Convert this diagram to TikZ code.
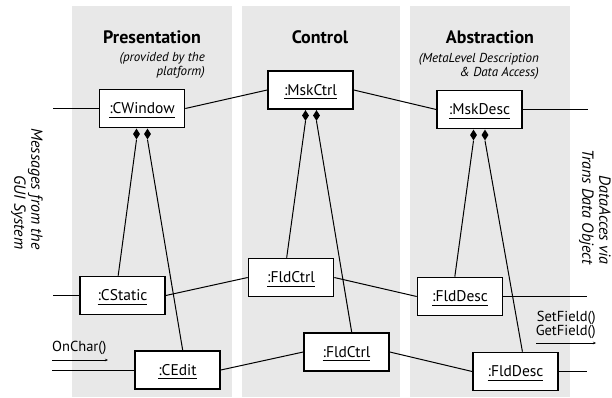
\documentclass[tikz,border=0pt]{standalone}
\usepackage{fontspec}
\setmainfont{PT Sans}
\usetikzlibrary{shapes.geometric,arrows.meta,calc}
% underlined object name with a heavier, lower rule
\newcommand\objlabel[1]{\setbox0\hbox{#1}\leavevmode\rlap{\rule[-4pt]{\wd0}{1pt}}\box0}
\begin{document}
\begin{tikzpicture}[x=1pt,y=-1pt,
  panel/.style={fill=black!9, draw=none},
  obj/.style={draw, line width=1.6pt, fill=white, minimum width=85pt, minimum height=38pt,
    inner sep=0pt, text height=10.5pt, text depth=0pt, font=\fontsize{15.5}{17}\selectfont},
  link/.style={line width=1pt},
  comp/.style={diamond, fill=black, draw=none, inner sep=0pt, minimum width=7pt,
    minimum height=11pt, anchor=north},
  title/.style={font=\bfseries\fontsize{18}{20}\selectfont, inner sep=0pt},
  note/.style={font=\itshape\fontsize{13}{14}\selectfont, align=right, anchor=east, inner sep=0pt},
  side/.style={font=\itshape\fontsize{16}{17}\selectfont, align=right, rotate=-90, inner sep=0pt},
  msg/.style={line width=0.7pt, -{Stealth[length=3pt,width=2.5pt]}},
  msgtext/.style={font=\fontsize{14.5}{12}\selectfont, inner sep=0pt}
]
\useasboundingbox (0,0) rectangle (612,397);

% the three layer columns
\fill[panel] (72,6) rectangle (232,397);
\fill[panel] (242,6) rectangle (400,397);
\fill[panel] (410,6) rectangle (570,397);

% column headings
\node[title] (tP) at (152,37) {Presentation};
\node[title] (tC) at (320,37) {Control};
\node[title] (tA) at (490,37) {Abstraction};
\node[note] (nP) at (205,65) {(provided by the\\platform)};
\node[note] (nA) at (539,66) {(MetaLevel Description\\\& Data Access)};

% side captions
\node[side] (sL) at (27,189) {Messages from the\\GUI System};
\node[side] (sR) at (595,207) {DataAcces via\\Trans Data Object};

% objects
\node[obj] (CWindow)  at (142,108.5) {\objlabel{:CWindow}};
\node[obj] (MskCtrl)  at (310.5,90)  {\objlabel{:MskCtrl}};
\node[obj] (MskDesc)  at (479.5,109.5) {\objlabel{:MskDesc}};
\node[obj] (CStatic)  at (122.5,295.5) {\objlabel{:CStatic}};
\node[obj] (CEdit)    at (177.5,370) {\objlabel{:CEdit}};
\node[obj] (FldCtrlA) at (291,277.5) {\objlabel{:FldCtrl}};
\node[obj] (FldCtrlB) at (346.5,352) {\objlabel{:FldCtrl}};
\node[obj] (FldDescA) at (460,296.5) {\objlabel{:FldDesc}};
\node[obj] (FldDescB) at (515.5,371.5) {\objlabel{:FldDesc}};

% composition diamonds
\node[comp] (cwA) at ($(CWindow.south)+(-5.5,0)$) {};
\node[comp] (cwB) at ($(CWindow.south)+(5.5,0)$) {};
\node[comp] (mcA) at ($(MskCtrl.south)+(-5,0)$) {};
\node[comp] (mcB) at ($(MskCtrl.south)+(6,0)$) {};
\node[comp] (mdA) at ($(MskDesc.south)+(-6,0)$) {};
\node[comp] (mdB) at ($(MskDesc.south)+(5.5,0)$) {};

% composition lines
\draw[link] (cwA.south) -- ($(CStatic.north west)!0.45!(CStatic.north east)$);
\draw[link] (cwB.south) -- ($(CEdit.north west)!0.56!(CEdit.north east)$);
\draw[link] (mcA.south) -- ($(FldCtrlA.north west)!0.45!(FldCtrlA.north east)$);
\draw[link] (mcB.south) -- ($(FldCtrlB.north west)!0.56!(FldCtrlB.north east)$);
\draw[link] (mdA.south) -- ($(FldDescA.north west)!0.44!(FldDescA.north east)$);
\draw[link] (mdB.south) -- ($(FldDescB.north west)!0.58!(FldDescB.north east)$);

% links between layers
\draw[link] (CWindow.east) -- (MskCtrl.west);
\draw[link] (MskCtrl.east) -- (MskDesc.west);
\draw[link] (CStatic.east) -- (FldCtrlA.west);
\draw[link] (FldCtrlA.east) -- (FldDescA.west);
\draw[link] (CEdit.east) -- (FldCtrlB.west);
\draw[link] (FldCtrlB.east) -- (FldDescB.west);

% outside connections
\coordinate (inW) at (53,108.5);
\coordinate (inS) at (53,295.5);
\coordinate (inE) at (52,370);
\coordinate (outM) at (588,109.5);
\coordinate (outA) at (587,296.5);
\coordinate (outB) at (587,371.5);
\draw[link] (inW) -- (CWindow.west);
\draw[link] (inS) -- (CStatic.west);
\draw[link] (inE) -- (CEdit.west);
\draw[link] (MskDesc.east) -- (outM);
\draw[link] (FldDescA.east) -- (outA);
\draw[link] (FldDescB.east) -- (outB);

% messages
\coordinate (ocA) at (52,360);
\coordinate (ocB) at (108,360);
\draw[msg] (ocA) -- (ocB);
\node[msgtext, anchor=base west] (oc) at (52,351) {OnChar()};
\coordinate (sgA) at (536,343);
\coordinate (sgB) at (596,343);
\draw[msg] (sgA) -- (sgB);
\node[msgtext, align=right, anchor=south east] (sg) at (596,339) {SetField()\\GetField()};
\end{tikzpicture}
\end{document}
